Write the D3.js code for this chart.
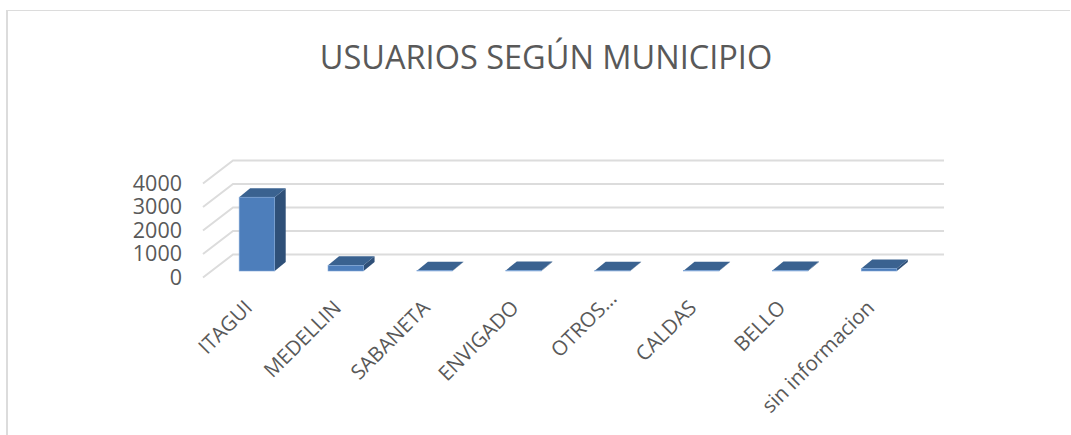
<!DOCTYPE html>
<html>
<head>
<meta charset="utf-8">
<script src="https://cdn.jsdelivr.net/npm/d3@7"></script>
<style>
	html, body { margin: 0; padding: 0; background: #fff; }
	svg { display: block; }
	text { font-family: "Open Sans", sans-serif; fill: #595959; }
</style>
</head>
<body>
<div id="chart"></div>
<script>
var title = "USUARIOS SEGÚN MUNICIPIO";
var municipios = ["ITAGUI", "MEDELLIN", "SABANETA", "ENVIGADO", "OTROS…", "CALDAS", "BELLO", "sin informacion"];
var usuarios = [3140, 240, 15, 25, 10, 15, 20, 110];
var ticks = [0, 1000, 2000, 3000, 4000];

var width = 1071, height = 435;

// wall depth of the fake 3d box, and depth of each bar
var wall = { dx : 30, dy : -23 };
var barDepth = { dx : 11, dy : -9 };
var barOffset = { dx : 9.5, dy : -6.5 };

var colors = { front : "#4d7ebb", side : "#2f5078", top : "#3a6290", grid : "#dcdcdc" };

var svg = d3.select("#chart").append("svg")
	.attr("width", width)
	.attr("height", height);

// frame, only top and left are visible in the picture
svg.append("rect")
	.attr("x", 6).attr("y", 10)
	.attr("width", 1064).attr("height", 1)
	.style("fill", colors.grid);
svg.append("rect")
	.attr("x", 6).attr("y", 10)
	.attr("width", 2).attr("height", 425)
	.style("fill", colors.grid);

svg.append("text")
	.attr("x", 546)
	.attr("y", 69)
	.style("text-anchor", "middle")
	.style("font-size", "32.5px")
	.text(title);

var scaleX = d3.scaleBand().domain(municipios).range([203, 914]).paddingInner(0.6).paddingOuter(0.3);
var scaleY = d3.scaleLinear().domain([0, 4000]).range([277.5, 183.5]);

// grid: side wall + back wall
var grid = svg.append("g");
grid.selectAll(".wall").data(ticks).enter()
	.append("path")
	.attr("class", "wall")
	.attr("d", function(d){
		var x = scaleX.range()[0], y = scaleY(d);
		return "M" + x + "," + y + "L" + (x + wall.dx) + "," + (y + wall.dy) + "H" + (scaleX.range()[1] + wall.dx);
	})
	.style("fill", "none")
	.style("stroke", colors.grid)
	.style("stroke-width", 2);

// value labels
var axisY = d3.axisLeft(scaleY).tickValues(ticks).tickSize(0).tickPadding(0).tickFormat(d3.format("d"));
var axisG = svg.append("g")
	.attr("transform", "translate(182,0)")
	.call(axisY);
axisG.select(".domain").remove();
axisG.selectAll("text")
	.style("font-family", "\"Open Sans\", sans-serif")
	.style("font-size", "21.5px")
	.style("fill", "#595959");

// bars
var bars = svg.selectAll(".bar").data(usuarios).enter()
	.append("g")
	.attr("class", "bar");

var barX = function(i){ return scaleX(municipios[i]) + barOffset.dx; };
var barTop = function(d){ return scaleY(d) + barOffset.dy; };
var barBottom = scaleY(0) + barOffset.dy;

bars.append("path")
	.attr("d", function(d, i){
		var x = barX(i) + scaleX.bandwidth();
		return "M" + x + "," + barTop(d) + "l" + barDepth.dx + "," + barDepth.dy
			+ "V" + (barBottom + barDepth.dy) + "L" + x + "," + barBottom + "Z";
	})
	.style("fill", colors.side);

bars.append("path")
	.attr("d", function(d, i){
		var x = barX(i), w = scaleX.bandwidth();
		return "M" + x + "," + barTop(d) + "l" + barDepth.dx + "," + barDepth.dy
			+ "h" + w + "l" + (-barDepth.dx) + "," + (-barDepth.dy) + "Z";
	})
	.style("fill", colors.top);

bars.append("rect")
	.attr("x", function(d, i){ return barX(i); })
	.attr("y", function(d){ return barTop(d); })
	.attr("width", scaleX.bandwidth())
	.attr("height", function(d){ return barBottom - barTop(d); })
	.style("fill", colors.front)
	.style("stroke", "#7fa6d6")
	.style("stroke-width", 0.6);

// category labels, the truncated one sits further along its slant
svg.selectAll(".cat").data(municipios).enter()
	.append("text")
	.attr("class", "cat")
	.attr("transform", function(d){
		return "translate(" + (scaleX(d) + scaleX.bandwidth() / 2 + 6) + ",309) rotate(-45)";
	})
	.attr("dx", function(d){ return d.indexOf("…") >= 0 ? 13 : 0; })
	.style("text-anchor", "end")
	.style("font-size", "20.5px")
	.text(function(d){ return d; });
</script>
</body>
</html>
